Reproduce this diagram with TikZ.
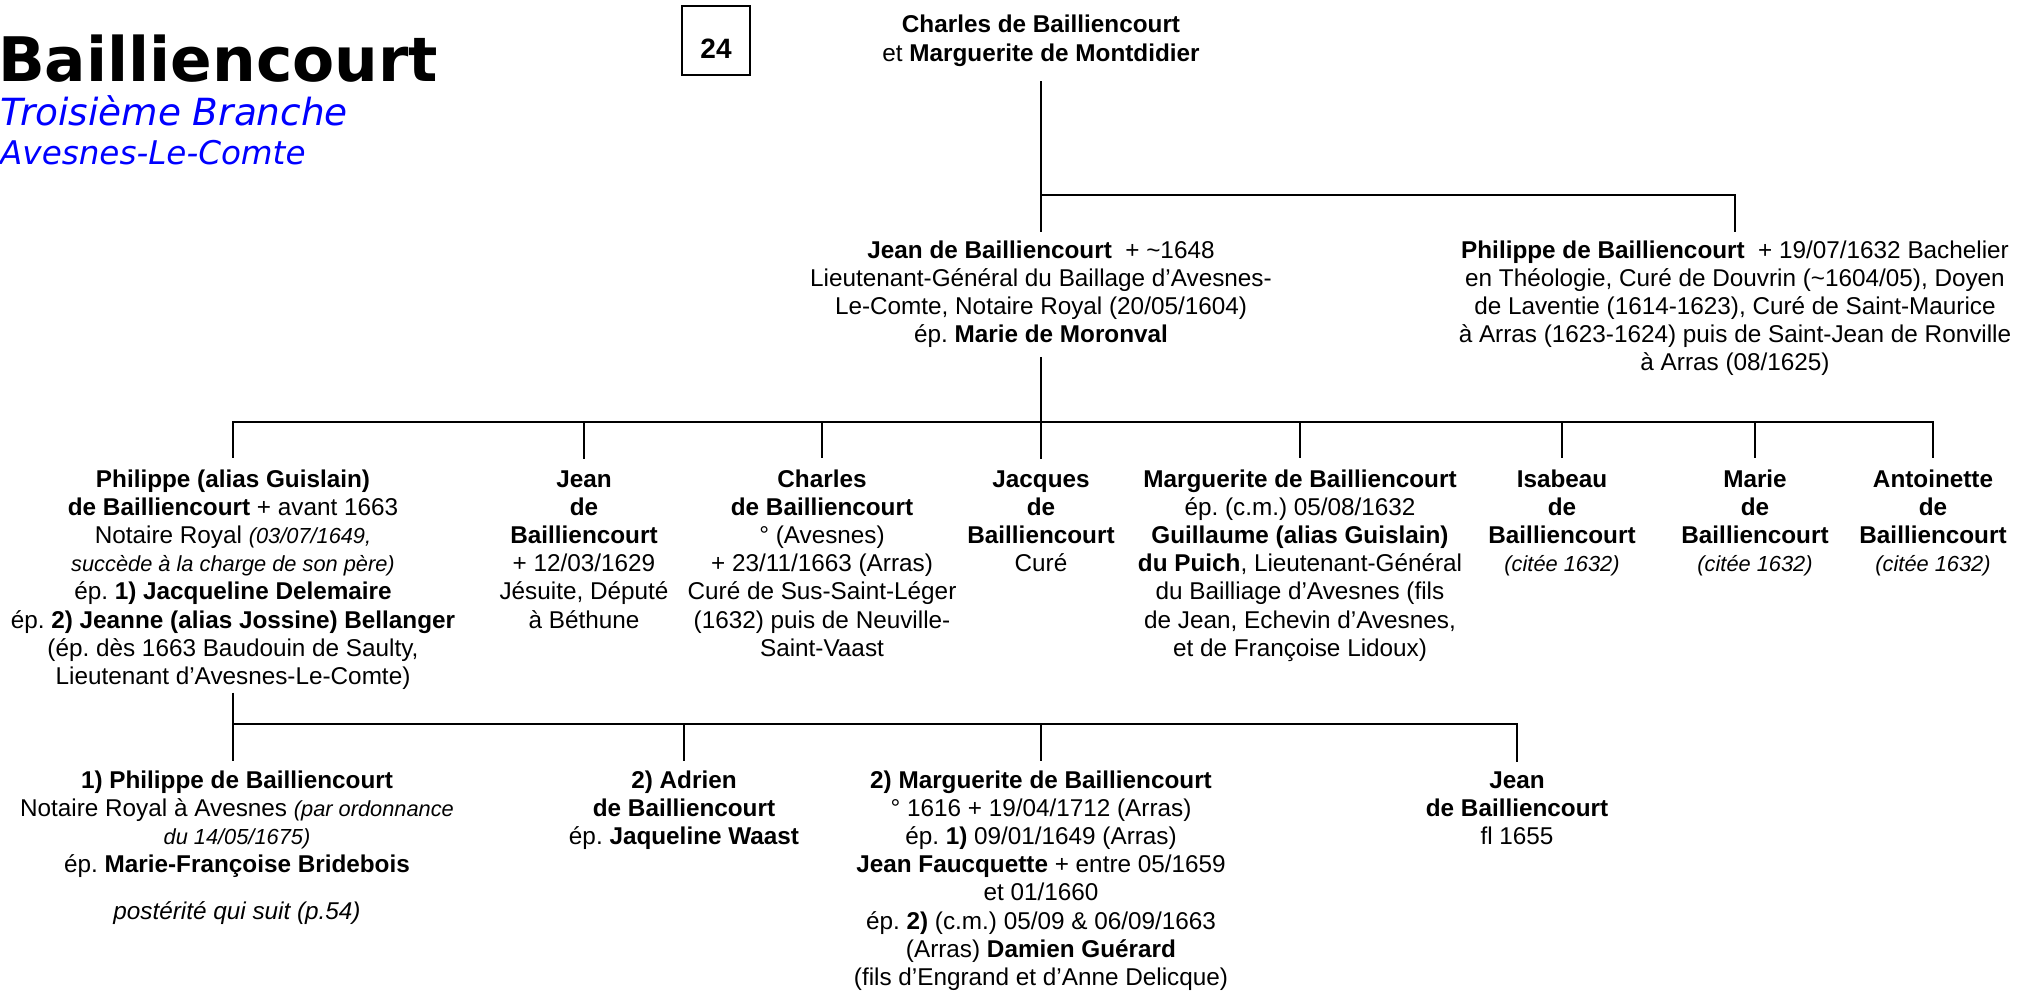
\documentclass[tikz,border=0pt]{standalone}
\usepackage{fontspec}
\setmainfont{Liberation Sans}
\newfontfamily\titlefont{DejaVu Sans}
\usetikzlibrary{calc}
\frenchspacing
\newcommand{\smit}[1]{{\fontsize{21.8}{28.2}\selectfont\itshape #1}}
\begin{document}
\begin{tikzpicture}[x=1pt,y=-1pt,
  person/.style={align=center, anchor=base, inner sep=0pt, font=\frenchspacing\fontsize{24.3}{28.2}\selectfont},
  bar/.style={line width=2.7pt, line cap=rect},
  drop/.style={line width=2pt}]
\fill[white] (0,0) rectangle (2017,995);
\useasboundingbox (0,0) rectangle (2017,995);

% title block
\node[anchor=base west, inner sep=0pt, font=\titlefont\bfseries\fontsize{61.4}{61.4}\selectfont] (title) at (-2,82) {Bailliencourt};
\node[anchor=base west, inner sep=0pt, text=blue, font=\titlefont\itshape\fontsize{37.4}{37.4}\selectfont] (sub) at (0,126) {Troisième Branche};
\node[anchor=base west, inner sep=0pt, text=blue, font=\titlefont\itshape\fontsize{32.6}{32.6}\selectfont] (loc) at (0,165) {Avesnes-Le-Comte};

\node[draw, line width=1.3pt, minimum width=68pt, minimum height=69pt, inner sep=0pt] (box) at (716,40.5) {};
\node[anchor=base, inner sep=0pt, font=\bfseries\fontsize{28}{28}\selectfont] (num) at (716,59) {24};

% (node positions are the baselines of their last lines)
% generation 1
\node[person, font=\frenchspacing\fontsize{24.3}{29}\selectfont] (top) at (1041,62) {\textbf{Charles de Bailliencourt}\\et \textbf{Marguerite de Montdidier}};

% generation 2
\node[person] (jean) at (1041,342.6) {\textbf{Jean de Bailliencourt}\ \ + \textasciitilde1648\\Lieutenant-Général du Baillage d’Avesnes-\\Le-Comte, Notaire Royal (20/05/1604)\\ép. \textbf{Marie de Moronval}};
\node[person] (phil) at (1735,370.8) {\textbf{Philippe de Bailliencourt}\ \ + 19/07/1632 Bachelier\\en Théologie, Curé de Douvrin (\textasciitilde1604/05), Doyen\\de Laventie (1614-1623), Curé de Saint-Maurice\\à Arras (1623-1624) puis de Saint-Jean de Ronville\\à Arras (08/1625)};

% generation 3
\node[person] (pg) at (233,684.4) {\textbf{Philippe (alias Guislain)}\\\textbf{de Bailliencourt} + avant 1663\\Notaire Royal \smit{(03/07/1649,}\\\smit{succède à la charge de son père)}\\ép. \textbf{1) Jacqueline Delemaire}\\ép. \textbf{2) Jeanne (alias Jossine) Bellanger}\\(ép. dès 1663 Baudouin de Saulty,\\Lieutenant d’Avesnes-Le-Comte)};
\node[person] (jn) at (584,628) {\textbf{Jean}\\\textbf{de}\\\textbf{Bailliencourt}\\+ 12/03/1629\\Jésuite, Député\\à Béthune};
\node[person] (ch) at (822,656.2) {\textbf{Charles}\\\textbf{de Bailliencourt}\\° (Avesnes)\\+ 23/11/1663 (Arras)\\Curé de Sus-Saint-Léger\\(1632) puis de Neuville-\\Saint-Vaast};
\node[person] (jq) at (1041,571.6) {\textbf{Jacques}\\\textbf{de}\\\textbf{Bailliencourt}\\Curé};
\node[person] (mg) at (1300,656.2) {\textbf{Marguerite de Bailliencourt}\\ép. (c.m.) 05/08/1632\\\textbf{Guillaume (alias Guislain)}\\\textbf{du Puich}, Lieutenant-Général\\du Bailliage d’Avesnes (fils\\de Jean, Echevin d’Avesnes,\\et de Françoise Lidoux)};
\node[person] (is) at (1562,571.6) {\textbf{Isabeau}\\\textbf{de}\\\textbf{Bailliencourt}\\\smit{(citée 1632)}};
\node[person] (ma) at (1755,571.6) {\textbf{Marie}\\\textbf{de}\\\textbf{Bailliencourt}\\\smit{(citée 1632)}};
\node[person] (an) at (1933,571.6) {\textbf{Antoinette}\\\textbf{de}\\\textbf{Bailliencourt}\\\smit{(citée 1632)}};

% generation 4
\node[person] (p1) at (237,919.8) {\textbf{1) Philippe de Bailliencourt}\\Notaire Royal à Avesnes \smit{(par ordonnance}\\\smit{du 14/05/1675)}\\ép. \textbf{Marie-Françoise Bridebois}\\[19pt]{\itshape postérité qui suit (p.54)}};
\node[person] (ad) at (684,844.4) {\textbf{2) Adrien}\\\textbf{de Bailliencourt}\\ép. \textbf{Jaqueline Waast}};
\node[person] (m2) at (1041,985.4) {\textbf{2) Marguerite de Bailliencourt}\\° 1616 + 19/04/1712 (Arras)\\ép. \textbf{1)} 09/01/1649 (Arras)\\\textbf{Jean Faucquette} + entre 05/1659\\et 01/1660\\ép. \textbf{2)} (c.m.) 05/09 \& 06/09/1663\\(Arras) \textbf{Damien Guérard}\\(fils d’Engrand et d’Anne Delicque)};
\node[person] (j2) at (1517,844.4) {\textbf{Jean}\\\textbf{de Bailliencourt}\\fl 1655};

% bar levels
\coordinate (bar1) at (0,195);
\coordinate (bar2) at (0,422);
\coordinate (bar3) at (0,724);

% connectors gen 1 -> 2
\draw[drop] ($(top.south)+(0,14)$) -- ($(jean.north)+(0,-8)$);
\draw[bar] (jean.north |- bar1) -- (phil.north |- bar1);
\draw[drop] (phil.north |- bar1) -- ($(phil.north)+(0,-8)$);

% connectors gen 2 -> 3
\draw[drop] ($(jean.south)+(0,9)$) -- (jean.south |- bar2);
\draw[bar] (pg.north |- bar2) -- (an.north |- bar2);
\foreach \c in {pg,jn,ch,jq,mg,is,ma,an}{
  \draw[drop] (\c.north |- bar2) -- ($(\c.north)+(0,-11)$);
}

% connectors gen 3 -> 4
\draw[drop] ($(pg.south)+(0,3)$) -- (pg.south |- bar3);
\draw[bar] (pg.south |- bar3) -- (j2.north |- bar3);
\draw[drop] (pg.south |- bar3) -- ($(pg.south |- p1.north)+(0,-9)$);
\foreach \c in {ad,m2,j2}{
  \draw[drop] (\c.north |- bar3) -- ($(\c.north)+(0,-9)$);
}
\end{tikzpicture}
\end{document}
